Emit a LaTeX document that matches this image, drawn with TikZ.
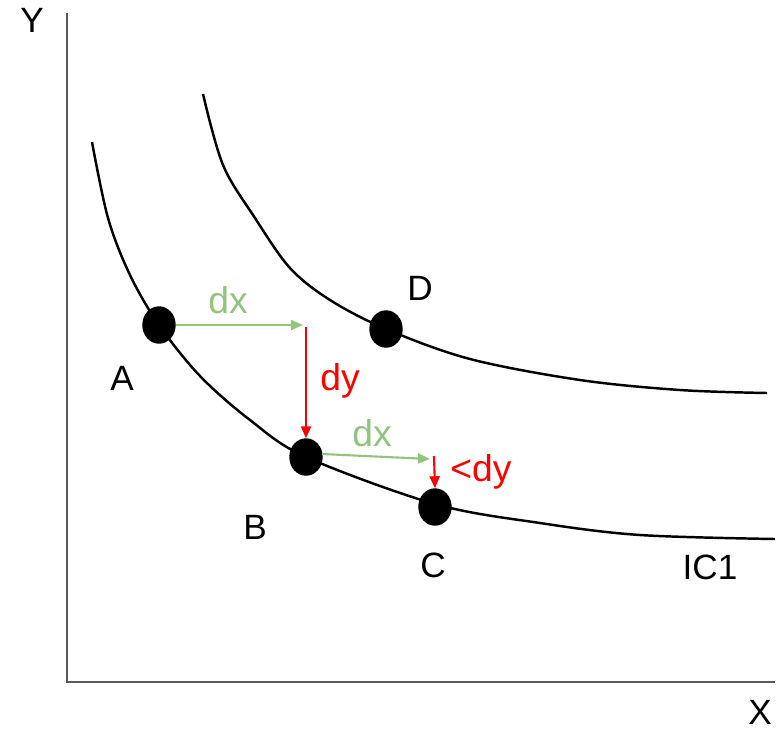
\documentclass[tikz,border=0pt]{standalone}
\usepackage{fontspec}
\setmainfont{Liberation Sans}
\usepackage{tikz}
\usetikzlibrary{arrows.meta,positioning,shapes.geometric}
\usepackage{xcolor}
\definecolor{dxgreen}{HTML}{93C47D}
\definecolor{axisgray}{HTML}{595959}

\begin{document}
\begin{tikzpicture}[x=0.01cm, y=-0.01cm, dot/.style={draw, fill=black, ellipse, inner sep=0pt, minimum width=0.32cm, minimum height=0.36cm}, lbl/.style={font=\fontsize{10}{12}\selectfont, inner sep=0pt}, clbl/.style={font=\fontsize{10.6}{12}\selectfont, inner sep=0pt}, garr/.style={-{Triangle[length=1.2mm,width=1mm]}, dxgreen, line width=0.6pt}, rarr/.style={-{Triangle[length=1.2mm,width=1mm]}, red, line width=0.6pt}, ic/.style={line width=0.7pt}]
\useasboundingbox (0,0) rectangle (776,730);
% axes
\coordinate (top) at (67,13);
\coordinate (origin) at (67,682);
\coordinate (right) at (775,682);
\draw[axisgray, line width=0.6pt] (top) -- (origin) -- (right);
\node[lbl] (ylab) at (32,20) {Y};
\node[lbl] (xlab) at (760,712) {X};
% indifference curves
\draw[ic] plot[smooth, tension=0.55] coordinates {(92,142) (108,218) (130,275) (159,325) (200,376) (250,420) (306,457) (435,504) (540,523) (640,535) (775,539)};
\draw[ic] plot[smooth, tension=0.55] coordinates {(203,94) (223,165) (255,218) (290,268) (330,300) (386,329) (470,359) (580,380) (680,390) (767,393)};
% points
\node[dot] (A) at (159,325) {};
\node[dot] (B) at (306,457) {};
\node[dot] (C) at (435,507) {};
\node[dot] (D) at (386,329) {};
\node[lbl] (labA) at (122,378) {A};
\node[lbl] (labB) at (255,527) {B};
\node[lbl] (labC) at (433,565) {C};
\node[lbl] (labD) at (420,288) {D};
\node[lbl] (ic1) at (710,567) {IC1};
% steps
\coordinate (dxend1) at (303,325);
\coordinate (dytop1) at (306,327);
\coordinate (dxstart2) at (322,454);
\coordinate (dxend2) at (430,459);
\coordinate (dytop2) at (434,456);
\draw[garr] (A.east) -- (dxend1);
\draw[rarr] (dytop1) -- (B.north);
\draw[garr] (dxstart2) -- (dxend2);
\draw[rarr] (dytop2) -- (C.north);
\node[clbl, text=dxgreen] (dx1) at (228,300) {dx};
\node[clbl, text=red] (dy1) at (340,381) {dy};
\node[clbl, text=dxgreen] (dx2) at (372,433) {dx};
\node[clbl, text=red] (dy2) at (481,472) {<dy};
\end{tikzpicture}
\end{document}
